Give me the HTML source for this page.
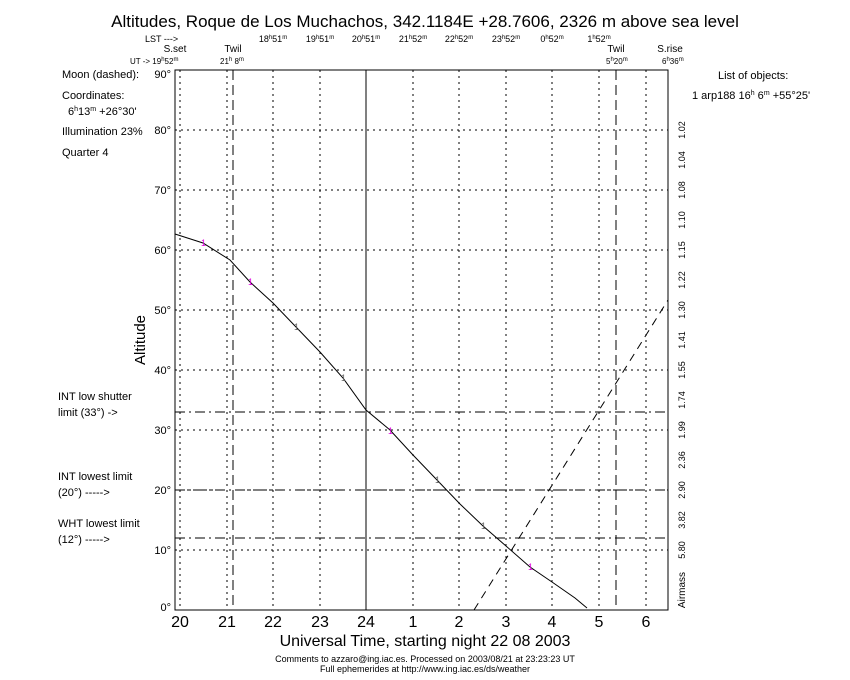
<!DOCTYPE html>
<html><head><meta charset="utf-8"><style>
body{margin:0;background:#fff}
svg{display:block;font-family:"Liberation Sans",sans-serif}
</style></head><body>
<svg width="850" height="680" viewBox="0 0 850 680" xmlns="http://www.w3.org/2000/svg">
<rect width="850" height="680" fill="#fff"/>
<text x="425" y="27" font-size="17" text-anchor="middle">Altitudes, Roque de Los Muchachos, 342.1184E +28.7606, 2326 m above sea level</text>
<g font-size="9">
<text x="145" y="42">LST ---&gt;</text>
<text x="273" y="42" text-anchor="middle">18<tspan font-size="6" dy="-3">h</tspan><tspan dy="3">51</tspan><tspan font-size="6" dy="-3">m</tspan></text>
<text x="320" y="42" text-anchor="middle">19<tspan font-size="6" dy="-3">h</tspan><tspan dy="3">51</tspan><tspan font-size="6" dy="-3">m</tspan></text>
<text x="366" y="42" text-anchor="middle">20<tspan font-size="6" dy="-3">h</tspan><tspan dy="3">51</tspan><tspan font-size="6" dy="-3">m</tspan></text>
<text x="413" y="42" text-anchor="middle">21<tspan font-size="6" dy="-3">h</tspan><tspan dy="3">52</tspan><tspan font-size="6" dy="-3">m</tspan></text>
<text x="459" y="42" text-anchor="middle">22<tspan font-size="6" dy="-3">h</tspan><tspan dy="3">52</tspan><tspan font-size="6" dy="-3">m</tspan></text>
<text x="506" y="42" text-anchor="middle">23<tspan font-size="6" dy="-3">h</tspan><tspan dy="3">52</tspan><tspan font-size="6" dy="-3">m</tspan></text>
<text x="552" y="42" text-anchor="middle">0<tspan font-size="6" dy="-3">h</tspan><tspan dy="3">52</tspan><tspan font-size="6" dy="-3">m</tspan></text>
<text x="599" y="42" text-anchor="middle">1<tspan font-size="6" dy="-3">h</tspan><tspan dy="3">52</tspan><tspan font-size="6" dy="-3">m</tspan></text>
</g>
<g font-size="10" text-anchor="middle">
<text x="175" y="52">S.set</text><text x="233" y="52">Twil</text>
<text x="616" y="52">Twil</text><text x="670" y="52">S.rise</text>
</g>
<g font-size="8">
<text x="130" y="64">UT -&gt; 19<tspan font-size="6" dy="-3">h</tspan><tspan dy="3">52</tspan><tspan font-size="6" dy="-3">m</tspan></text>
<text x="220" y="64">21<tspan font-size="6" dy="-3">h</tspan><tspan dy="3"> 8</tspan><tspan font-size="6" dy="-3">m</tspan></text>
<text x="606" y="64">5<tspan font-size="6" dy="-3">h</tspan><tspan dy="3">20</tspan><tspan font-size="6" dy="-3">m</tspan></text>
<text x="662" y="64">6<tspan font-size="6" dy="-3">h</tspan><tspan dy="3">36</tspan><tspan font-size="6" dy="-3">m</tspan></text>
</g>
<g stroke="#000" stroke-width="1" stroke-dasharray="2,4">
<line x1="175" y1="130" x2="668" y2="130"/><line x1="175" y1="190" x2="668" y2="190"/>
<line x1="175" y1="250" x2="668" y2="250"/><line x1="175" y1="310" x2="668" y2="310"/>
<line x1="175" y1="370" x2="668" y2="370"/><line x1="175" y1="430" x2="668" y2="430"/>
<line x1="175" y1="490" x2="668" y2="490"/><line x1="175" y1="550" x2="668" y2="550"/>
<line x1="180" y1="70" x2="180" y2="610"/><line x1="227" y1="70" x2="227" y2="610"/>
<line x1="273" y1="70" x2="273" y2="610"/><line x1="320" y1="70" x2="320" y2="610"/>
<line x1="413" y1="70" x2="413" y2="610"/><line x1="459" y1="70" x2="459" y2="610"/>
<line x1="506" y1="70" x2="506" y2="610"/><line x1="552" y1="70" x2="552" y2="610"/>
<line x1="599" y1="70" x2="599" y2="610"/><line x1="646" y1="70" x2="646" y2="610"/>
</g>
<line x1="366" y1="70" x2="366" y2="610" stroke="#000"/>
<g stroke="#000" stroke-dasharray="10,5">
<line x1="233" y1="70" x2="233" y2="610"/><line x1="616" y1="70" x2="616" y2="610"/>
</g>
<g stroke="#000" stroke-dasharray="10,4,2,4">
<line x1="175" y1="412" x2="668" y2="412"/><line x1="175" y1="490" x2="668" y2="490"/><line x1="175" y1="538" x2="668" y2="538"/>
</g>
<rect x="175" y="70" width="493" height="540" fill="none" stroke="#000"/>
<polyline fill="none" stroke="#000" points="175,234 203,243 230,260 250,282 273,303 296,327 320,352 343,378 366,410 390,430 413,455 437,480 460,504 483,526 506,546 530,567 552,582 575,598 587,608"/>
<line x1="474" y1="610" x2="668" y2="300" stroke="#000" stroke-dasharray="8,6"/>
<g font-size="9" fill="#e000e0"><text x="201" y="246">1</text><text x="248" y="285">1</text><text x="388" y="434">1</text><text x="528" y="570">1</text></g>
<g font-size="9" fill="#666"><text x="294" y="330">1</text><text x="341" y="381">1</text><text x="435" y="483">1</text><text x="481" y="529">1</text></g>
<g font-size="11" text-anchor="end">
<text x="171" y="78">90°</text><text x="171" y="134">80°</text><text x="171" y="194">70°</text>
<text x="171" y="254">60°</text><text x="171" y="314">50°</text><text x="171" y="374">40°</text>
<text x="171" y="434">30°</text><text x="171" y="494">20°</text><text x="171" y="554">10°</text><text x="171" y="611">0°</text>
</g>
<text transform="translate(145,340) rotate(-90)" font-size="15" text-anchor="middle">Altitude</text>
<g font-size="16" text-anchor="middle">
<text x="180" y="627">20</text><text x="227" y="627">21</text><text x="273" y="627">22</text><text x="320" y="627">23</text>
<text x="366" y="627">24</text><text x="413" y="627">1</text><text x="459" y="627">2</text><text x="506" y="627">3</text>
<text x="552" y="627">4</text><text x="599" y="627">5</text><text x="646" y="627">6</text>
</g>
<text x="425" y="646" font-size="16" text-anchor="middle">Universal Time, starting night 22 08 2003</text>
<text x="425" y="662" font-size="9" text-anchor="middle">Comments to azzaro@ing.iac.es. Processed on 2003/08/21 at 23:23:23 UT</text>
<text x="425" y="672" font-size="9" text-anchor="middle">Full ephemerides at http://www.ing.iac.es/ds/weather</text>
<g font-size="9">
<text transform="translate(685,130) rotate(-90)" text-anchor="middle">1.02</text>
<text transform="translate(685,160) rotate(-90)" text-anchor="middle">1.04</text>
<text transform="translate(685,190) rotate(-90)" text-anchor="middle">1.08</text>
<text transform="translate(685,220) rotate(-90)" text-anchor="middle">1.10</text>
<text transform="translate(685,250) rotate(-90)" text-anchor="middle">1.15</text>
<text transform="translate(685,280) rotate(-90)" text-anchor="middle">1.22</text>
<text transform="translate(685,310) rotate(-90)" text-anchor="middle">1.30</text>
<text transform="translate(685,340) rotate(-90)" text-anchor="middle">1.41</text>
<text transform="translate(685,370) rotate(-90)" text-anchor="middle">1.55</text>
<text transform="translate(685,400) rotate(-90)" text-anchor="middle">1.74</text>
<text transform="translate(685,430) rotate(-90)" text-anchor="middle">1.99</text>
<text transform="translate(685,460) rotate(-90)" text-anchor="middle">2.36</text>
<text transform="translate(685,490) rotate(-90)" text-anchor="middle">2.90</text>
<text transform="translate(685,520) rotate(-90)" text-anchor="middle">3.82</text>
<text transform="translate(685,550) rotate(-90)" text-anchor="middle">5.80</text>
<text transform="translate(685,590) rotate(-90)" text-anchor="middle" font-size="10">Airmass</text>
</g>
<g font-size="11">
<text x="718" y="79">List of objects:</text>
<text x="692" y="99">1 arp188 16<tspan font-size="7" dy="-4">h</tspan><tspan dy="4"> 6</tspan><tspan font-size="7" dy="-4">m</tspan><tspan dy="4"> +55°25'</tspan></text>
<text x="62" y="78">Moon (dashed):</text>
<text x="62" y="99">Coordinates:</text>
<text x="68" y="115">6<tspan font-size="7" dy="-4">h</tspan><tspan dy="4">13</tspan><tspan font-size="7" dy="-4">m</tspan><tspan dy="4">  +26°30'</tspan></text>
<text x="62" y="135">Illumination  23%</text>
<text x="62" y="156">Quarter     4</text>
<text x="58" y="400">INT low shutter</text>
<text x="58" y="416">limit (33°)  -&gt;</text>
<text x="58" y="480">INT lowest limit</text>
<text x="58" y="496">(20°)  -----&gt;</text>
<text x="58" y="527">WHT lowest limit</text>
<text x="58" y="543">(12°)  -----&gt;</text>
</g>
</svg>
</body></html>
